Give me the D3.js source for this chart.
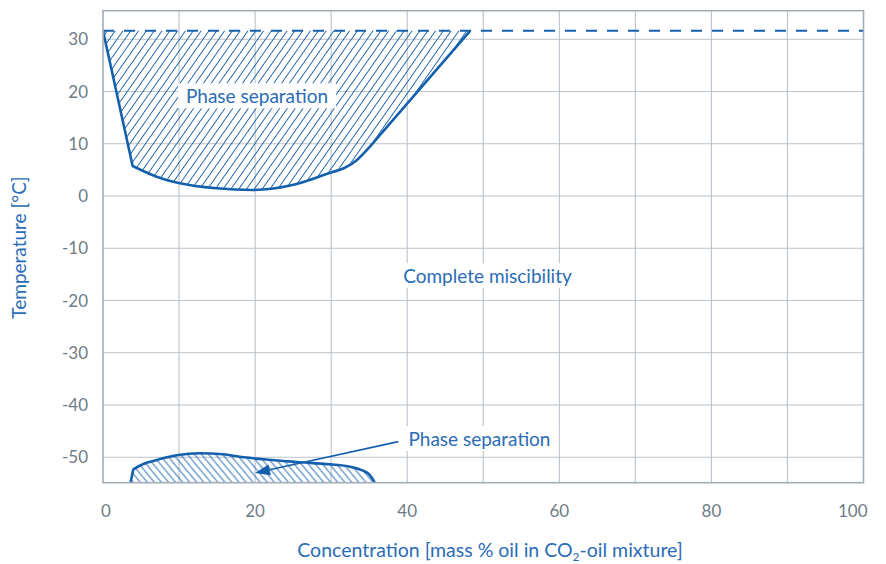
<!DOCTYPE html>
<html><head><meta charset="utf-8">
<script src="https://cdn.jsdelivr.net/npm/d3@7"></script>
<style>body{margin:0;background:#fff}</style></head>
<body><svg id="c" width="886" height="564"></svg>
<script>
// ---- data ----
const xTickValues = [0, 20, 40, 60, 80, 100];
const yTickValues = [30, 20, 10, 0, -10, -20, -30, -40, -50];
const xGridValues = [10, 20, 30, 40, 50, 60, 70, 80, 90];
const criticalTemp = 31.65;
const upperLeftEdge = [[0, 31.65], [3.9, 5.75]];
const upperBottom = [[3.9, 5.75], [7.06, 3.7], [10.1, 2.44], [14.95, 1.48], [19.7, 1.16], [24.6, 2.0], [29, 4.03], [33.4, 6.9], [35.1, 9.45]];
const upperRightEdge = [[35.1, 9.45], [48.3, 31.65]];
const lowerLeftEdge = [[3.55, -55.3], [3.99, -52.3]];
const lowerTop = [[3.99, -52.3], [5.3, -51.28], [7.06, -50.52], [9.69, -49.62], [12.75, -49.23], [15.8, -49.43], [18.0, -49.89], [21.1, -50.38], [25.5, -50.9], [29.85, -51.34], [32.5, -51.8], [34.2, -52.56], [35.1, -53.4], [35.9, -55.3]];
const arrowStart = [38.83, -47.0];
const arrowTip = [19.99, -53.0];
const labels = [
  {text: "Phase separation", x: 20.25, y: 17.75},
  {text: "Complete miscibility", x: 50.56, y: -16.7},
  {text: "Phase separation", x: 49.5, y: -47.84}
];
const xTitle = "Concentration [mass % oil in CO";
const yTitle = "Temperature [°C]";

// ---- layout ----
const L = 103, R = 863.5, T = 10.7, B = 482.7;
const blue = "#1560ad", textBlue = "#2a6cb5", gridC = "#bac2ca", borderC = "#a3adb5", tickC = "#6f7c86";
const font = "Lato, 'Open Sans', sans-serif";
const x = d3.scaleLinear().domain([0, 100]).range([L, R]);
const y = d3.scaleLinear().domain([-54.86, 35.47]).range([B, T]);
const svg = d3.select("#c");
const defs = svg.append("defs");
defs.append("clipPath").attr("id", "plot").append("rect")
  .attr("x", L).attr("y", T).attr("width", R - L).attr("height", B - T);
function hatch(id, angle, w) {
  const p = defs.append("pattern").attr("id", id).attr("patternUnits", "userSpaceOnUse")
    .attr("width", w).attr("height", w).attr("patternTransform", `rotate(${angle})`);
  p.append("line").attr("x1", w / 2).attr("x2", w / 2).attr("y1", 0).attr("y2", w)
    .attr("stroke", blue).attr("stroke-width", 0.9);
}
hatch("hUp", 35, 6.4);
hatch("hDown", -40, 5.4);

// grid
const g = svg.append("g");
g.selectAll(".vg").data(xGridValues).join("line")
  .attr("x1", d => x(d)).attr("x2", d => x(d)).attr("y1", T).attr("y2", B)
  .attr("stroke", gridC).attr("stroke-width", 1.1);
g.selectAll(".hg").data(yTickValues).join("line")
  .attr("x1", L).attr("x2", R).attr("y1", d => y(d)).attr("y2", d => y(d))
  .attr("stroke", gridC).attr("stroke-width", 1.1);

const lin = d3.line().x(d => x(d[0])).y(d => y(d[1]));
const smooth = d3.line().x(d => x(d[0])).y(d => y(d[1])).curve(d3.curveMonotoneX);
const cont = s => s.replace(/^M/, "L");

// upper region
const upperPath = lin(upperLeftEdge) + cont(smooth(upperBottom)) + cont(lin(upperRightEdge));
const pc = svg.append("g").attr("clip-path", "url(#plot)");
pc.append("path").attr("d", upperPath + "Z").attr("fill", "url(#hUp)");
pc.append("path").attr("d", upperPath).attr("fill", "none").attr("stroke", blue)
  .attr("stroke-width", 2.6).attr("stroke-linejoin", "round");
// lower region
const lowerPath = lin(lowerLeftEdge) + cont(smooth(lowerTop));
pc.append("path").attr("d", lowerPath + "Z").attr("fill", "url(#hDown)");
pc.append("path").attr("d", lowerPath).attr("fill", "none").attr("stroke", blue)
  .attr("stroke-width", 2.6).attr("stroke-linejoin", "round");
// critical temperature dashed line
pc.append("line").attr("x1", x(0)).attr("x2", x(100)).attr("y1", y(criticalTemp)).attr("y2", y(criticalTemp))
  .attr("stroke", blue).attr("stroke-width", 2).attr("stroke-dasharray", "11,10");

// border
svg.append("rect").attr("x", L).attr("y", T).attr("width", R - L).attr("height", B - T)
  .attr("fill", "none").attr("stroke", borderC).attr("stroke-width", 1.6);

// labels with white boxes
labels.forEach(l => {
  const t = svg.append("text").attr("x", x(l.x)).attr("y", y(l.y)).attr("text-anchor", "middle")
    .attr("font-family", font).attr("font-size", 19).attr("fill", textBlue).text(l.text);
  const bb = t.node().getBBox();
  svg.insert("rect", () => t.node()).attr("x", bb.x - 8).attr("y", bb.y - 1)
    .attr("width", bb.width + 16).attr("height", bb.height + 2).attr("fill", "#fff");
});

// arrow
const ax0 = x(arrowStart[0]), ay0 = y(arrowStart[1]), ax1 = x(arrowTip[0]), ay1 = y(arrowTip[1]);
const ang = Math.atan2(ay1 - ay0, ax1 - ax0);
const hl = 15, hw = 5.5;
const bx = ax1 - hl * Math.cos(ang), by = ay1 - hl * Math.sin(ang);
svg.append("line").attr("x1", ax0).attr("y1", ay0).attr("x2", bx).attr("y2", by)
  .attr("stroke", blue).attr("stroke-width", 1.6);
svg.append("path").attr("d", `M${ax1},${ay1}L${bx - hw * Math.sin(ang)},${by + hw * Math.cos(ang)}L${bx + hw * Math.sin(ang)},${by - hw * Math.cos(ang)}Z`)
  .attr("fill", blue);

// tick labels
svg.selectAll(".yt").data(yTickValues).join("text")
  .attr("x", 88).attr("y", d => y(d) + 6).attr("text-anchor", "end")
  .attr("font-family", font).attr("font-size", 17).attr("fill", tickC).text(d => d);
svg.selectAll(".xt").data(xTickValues).join("text")
  .attr("x", (d, i) => i === 0 ? x(d) - 2 : i === xTickValues.length - 1 ? x(d) + 4 : x(d))
  .attr("y", 517)
  .attr("text-anchor", (d, i) => i === 0 ? "start" : i === xTickValues.length - 1 ? "end" : "middle")
  .attr("font-family", font).attr("font-size", 17).attr("fill", tickC).text(d => d);

// axis titles
const xt = svg.append("text").attr("x", 490).attr("y", 557).attr("text-anchor", "middle")
  .attr("font-family", font).attr("font-size", 19.5).attr("fill", textBlue);
xt.append("tspan").text(xTitle);
xt.append("tspan").attr("font-size", 12).attr("dy", 4).text("2");
xt.append("tspan").attr("dy", -4).text("-oil mixture]");
svg.append("text").attr("transform", "translate(26,247.5) rotate(-90)").attr("text-anchor", "middle")
  .attr("font-family", font).attr("font-size", 19).attr("fill", textBlue).text(yTitle);
</script></body></html>
